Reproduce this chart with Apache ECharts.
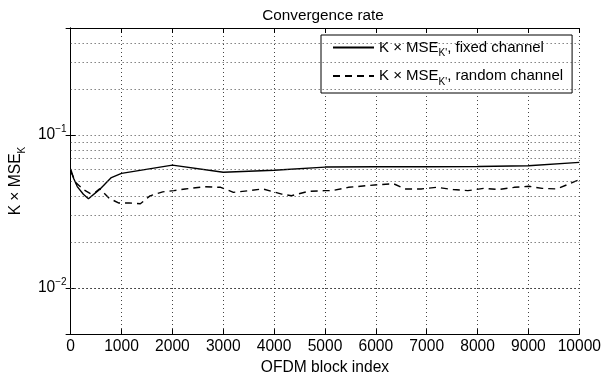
<!DOCTYPE html>
<html>
<head>
<meta charset="utf-8">
<script src="https://cdn.jsdelivr.net/npm/echarts@6/dist/echarts.min.js"></script>
<style>
	html, body { margin: 0; padding: 0; background: #fff; }
	#chart { width: 604px; height: 381px; }
</style>
</head>
<body>
<div id="chart"></div>
<script>
// fixed channel curve
const xFixed = [0, 60, 130, 250, 350, 570, 800, 1000, 2000, 3000, 4000, 5000, 6000, 7000, 8000, 9000, 10000];
const yFixed = [0.060, 0.052, 0.046, 0.041, 0.0383, 0.0441, 0.0527, 0.0561, 0.0635, 0.0571, 0.0588, 0.0617, 0.062, 0.062, 0.0623, 0.063, 0.0662];

// random channel curve
const xRandom = [0, 100, 250, 380, 480, 570, 760, 950, 1150, 1370, 1560, 1810, 2030, 2250, 2640, 2950, 3200, 3520, 3780, 4150, 4340,
	4670, 4990, 5140, 5460, 6030, 6350, 6570, 6890, 7200, 7520, 7810, 8130, 8410, 8720, 9010, 9270, 9560, 9870, 10000];
const yRandom = [0.058, 0.049, 0.044, 0.0415, 0.042, 0.0445, 0.0385, 0.0359, 0.036, 0.0355, 0.040, 0.0425, 0.0433, 0.0444, 0.0459, 0.0455, 0.0422, 0.0433, 0.0444, 0.0411, 0.0401,
	0.0428, 0.0433, 0.0433, 0.0455, 0.0473, 0.048, 0.0444, 0.0444, 0.0455, 0.044, 0.0433, 0.0448, 0.044, 0.0455, 0.0462, 0.0448, 0.0444, 0.049, 0.051];

const seriesNames = ['fixed channel', 'random channel'];
const yMin = 0.005;
const yMax = 0.5;
const minorGrid = [0.006, 0.007, 0.008, 0.009, 0.02, 0.03, 0.04, 0.05, 0.06, 0.07, 0.08, 0.09, 0.2, 0.3, 0.4];

const FONT = 'Liberation Sans, Arial, Helvetica, sans-serif';
const FS = 15.6;
const dotted = {type: [1, 3], color: '#444', width: 1};

const chart = echarts.init(document.getElementById('chart'));

// text with a subscript, for axis name and legend
const subRich = size => ({
	n: {fontSize: size, fontFamily: FONT, color: '#000', lineHeight: 22, verticalAlign: 'middle'},
	s: {fontSize: 10, fontFamily: FONT, color: '#000', lineHeight: 10, verticalAlign: 'bottom'}
});

chart.setOption({
	animation: false,
	backgroundColor: '#fff',
	textStyle: {fontFamily: FONT, color: '#000'},
	title: {
		text: 'Convergence rate',
		left: 318,
		top: 3,
		textAlign: 'center',
		textStyle: {fontSize: 15.3, fontWeight: 'normal', fontFamily: FONT, color: '#000'}
	},
	grid: {left: 55, right: 22, top: 28, bottom: 46},
	legend: {
		orient: 'vertical',
		left: 321,
		top: 35,
		padding: [5, 9, 6, 11],
		itemGap: 10,
		itemWidth: 41,
		itemHeight: 14,
		backgroundColor: '#fff',
		borderColor: '#000',
		borderWidth: 1,
		itemStyle: {opacity: 0},
		data: seriesNames,
		formatter: name => '{n|K × MSE}{s|K\'}{n|, ' + name + '}',
		textStyle: {rich: subRich(15)}
	},
	xAxis: [{
		type: 'value',
		min: 0,
		max: 10000,
		interval: 1000,
		name: 'OFDM block index',
		nameLocation: 'middle',
		nameGap: 22,
		nameTextStyle: {fontSize: FS, fontFamily: FONT, color: '#000'},
		axisLine: {lineStyle: {color: '#000', width: 1}},
		axisTick: {inside: true, length: 5, lineStyle: {color: '#000'}},
		axisLabel: {fontSize: FS, fontFamily: FONT, color: '#000', margin: 5, formatter: v => String(v)},
		splitLine: {show: true, lineStyle: dotted}
	}, {
		type: 'value',
		position: 'top',
		min: 0,
		max: 10000,
		interval: 1000,
		axisLine: {lineStyle: {color: '#000', width: 1}},
		axisTick: {inside: true, length: 5, lineStyle: {color: '#000'}},
		axisLabel: {show: false},
		splitLine: {show: false}
	}],
	yAxis: [{
		type: 'log',
		logBase: 10,
		min: yMin,
		max: yMax,
		name: '{n|K × MSE}{s|K}',
		nameLocation: 'middle',
		nameGap: 31,
		nameRotate: 90,
		nameTextStyle: {rich: subRich(FS)},
		axisLine: {show: true, lineStyle: {color: '#000', width: 1}},
		axisTick: {inside: true, length: 5, lineStyle: {color: '#000'}},
		axisLabel: {
			margin: 4,
			formatter: v => {
				const p = Math.log10(v);
				if (Math.abs(p - Math.round(p)) > 1e-6) return '';
				return '{b|10}{e|−' + Math.abs(Math.round(p)) + '}';
			},
			rich: {
				b: {fontSize: FS, fontFamily: FONT, color: '#000', lineHeight: 22, verticalAlign: 'middle'},
				e: {fontSize: 10, fontFamily: FONT, color: '#000', lineHeight: 10, verticalAlign: 'top'}
			}
		},
		splitLine: {show: true, lineStyle: dotted}
	}, {
		type: 'log',
		logBase: 10,
		position: 'right',
		min: yMin,
		max: yMax,
		axisLine: {show: true, lineStyle: {color: '#000', width: 1}},
		axisTick: {inside: true, length: 5, lineStyle: {color: '#000'}},
		axisLabel: {show: false},
		splitLine: {show: false}
	}],
	series: [{
		name: seriesNames[0],
		type: 'line',
		showSymbol: false,
		symbol: 'none',
		data: xFixed.map((x, i) => [x, yFixed[i]]),
		lineStyle: {color: '#000', width: 1.4, type: 'solid'},
		itemStyle: {color: '#000'},
		markLine: {
			silent: true,
			symbol: ['none', 'none'],
			label: {show: false},
			lineStyle: dotted,
			data: minorGrid.map(v => ({yAxis: v}))
		},
		z: 3
	}, {
		name: seriesNames[1],
		type: 'line',
		showSymbol: false,
		symbol: 'none',
		data: xRandom.map((x, i) => [x, yRandom[i]]),
		lineStyle: {color: '#000', width: 1.4, type: [7, 5]},
		itemStyle: {color: '#000'},
		z: 3
	}]
});
</script>
</body>
</html>
